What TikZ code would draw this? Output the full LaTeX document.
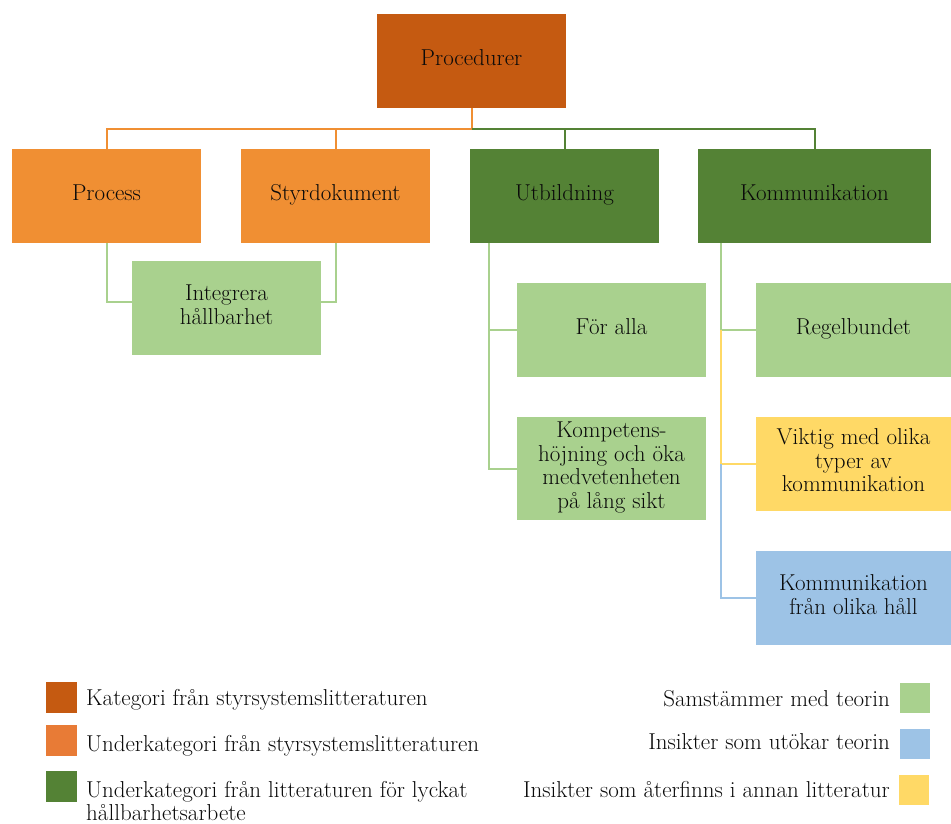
\documentclass[tikz,border=0pt]{standalone}
\usepackage{fontspec}
\definecolor{cdark}{HTML}{C55A11}
\definecolor{corange}{HTML}{F08F33}
\definecolor{corangeL}{HTML}{E87B36}
\definecolor{cgreen}{HTML}{548235}
\definecolor{clgreen}{HTML}{A9D18E}
\definecolor{cblue}{HTML}{9DC3E6}
\definecolor{cyellow}{HTML}{FFD966}
\definecolor{ctext}{HTML}{0A0A0A}
\begin{document}
\begin{tikzpicture}[x=1pt,y=-1pt,
  every node/.style={font=\fontsize{23}{23.5}\selectfont, text=ctext},
  box/.style={rectangle, inner sep=0pt, align=center, minimum width=189pt, minimum height=94pt,
    execute at begin node=\strut, execute at end node=\strut},
  conn/.style={line width=2pt},
  oline/.style={conn, draw=corange},
  gline/.style={conn, draw=cgreen},
  lgline/.style={conn, draw=clgreen},
  yline/.style={conn, draw=cyellow},
  bline/.style={conn, draw=cblue},
  legsq/.style={rectangle, inner sep=0pt, minimum width=31pt, minimum height=31pt},
  legtxt/.style={inner sep=0pt, align=left}
]
\useasboundingbox (0,0) rectangle (951,823);

% boxes
\node[box, fill=cdark] (proc) at (471.5,61) {Procedurer};
\node[box, fill=corange] (process) at (106.5,196) {Process};
\node[box, fill=corange] (styr) at (335.5,196) {Styrdokument};
\node[box, fill=cgreen] (utb) at (564.5,196) {Utbildning};
\node[box, fill=cgreen, minimum width=233pt] (komm) at (814.5,196) {Kommunikation};
\node[box, fill=clgreen] (integ) at (226.5,308) {Integrera\\hållbarhet};
\node[box, fill=clgreen] (foralla) at (611.5,330) {För alla};
\node[box, fill=clgreen, minimum height=103pt] (kompet) at (611.5,468.5) {Kompetens-\\höjning och öka\\medvetenheten\\på lång sikt};
\node[box, fill=clgreen, minimum width=195pt] (regel) at (853.5,330) {Regelbundet};
\node[box, fill=cyellow, minimum width=195pt] (viktig) at (853.5,464) {Viktig med olika\\typer av\\kommunikation};
\node[box, fill=cblue, minimum width=195pt] (kfoh) at (853.5,598) {Kommunikation\\från olika håll};

% top connectors
\coordinate (bus) at (471.5,128.5);
\draw[oline] (proc.south) -- (bus) -| (process.north);
\draw[oline] (bus) -| (styr.north);
\draw[gline] (bus) -| (utb.north);
\draw[gline] (bus) -| (komm.north);

% integrera
\draw[lgline] (process.south) |- ([yshift=6pt]integ.west);
\draw[lgline] (styr.south) |- ([yshift=6pt]integ.east);

% utbildning
\coordinate (uL) at ([xshift=-76pt]utb.south);
\draw[lgline] (uL) |- (foralla.west);
\draw[lgline] (uL) |- (kompet.west);

% kommunikation
\coordinate (kL) at ([xshift=-93.5pt]komm.south);
\coordinate (k2) at (kL |- regel.west);
\coordinate (k3) at (kL |- viktig.west);
\draw[lgline] (kL) |- (regel.west);
\draw[yline] (k2) |- (viktig.west);
\draw[bline] (k3) |- (kfoh.west);

% legend left
\node[legsq, fill=cdark] (l1) at (61.5,697.5) {};
\node[legsq, fill=corangeL] (l2) at (61.5,740.5) {};
\node[legsq, fill=cgreen] (l3) at (61.5,786.5) {};
\node[legtxt, anchor=base west] (t1) at (86,705) {Kategori från styrsystemslitteraturen};
\node[legtxt, anchor=base west] (t2) at (86,751) {Underkategori från styrsystemslitteraturen};
\node[legtxt, anchor=base west] (t3) at (86,797) {Underkategori från litteraturen för lyckat};
\node[legtxt, anchor=base west] (t3b) at (86,820) {hållbarhetsarbete};

% legend right
\node[legsq, fill=clgreen, minimum width=30pt, minimum height=30pt] (r1) at (915,698) {};
\node[legsq, fill=cblue, minimum width=30pt, minimum height=30pt] (r2) at (915,744) {};
\node[legsq, fill=cyellow, minimum width=30pt, minimum height=30pt] (r3) at (914,790) {};
\node[legtxt, anchor=base east] (s1) at (890,706) {Samstämmer med teorin};
\node[legtxt, anchor=base east] (s2) at (890,749) {Insikter som utökar teorin};
\node[legtxt, anchor=base east] (s3) at (890,797) {Insikter som återfinns i annan litteratur};
\end{tikzpicture}
\end{document}
